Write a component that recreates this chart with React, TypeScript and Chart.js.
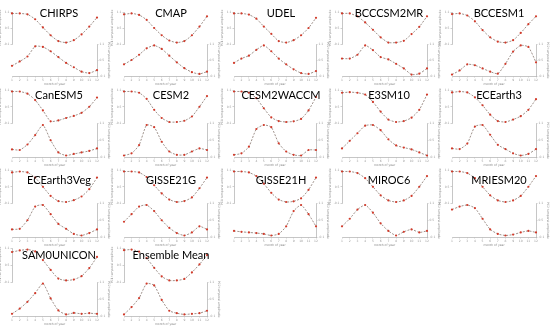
import React, { useEffect, useRef } from 'react';
import { Chart, registerables } from 'chart.js';

Chart.register(...registerables);

// ---------- data (normalised amplitudes) ----------
const MONTHS = ['1', '2', '3', '4', '5', '6', '7', '8', '9', '10', '11', '12'];

const CHIRPS_T = [1.0, 1.0, 0.97, 0.8, 0.52, 0.25, 0.05, 0.0, 0.08, 0.28, 0.55, 0.86];
const CHIRPS_B = [0.3, 0.45, 0.62, 0.97, 0.95, 0.8, 0.6, 0.4, 0.25, 0.1, 0.05, 0.15];
const CMAP_T = [0.97, 1.0, 0.95, 0.78, 0.5, 0.25, 0.07, 0.0, 0.05, 0.25, 0.55, 0.9];
const CMAP_B = [0.35, 0.5, 0.68, 0.9, 1.0, 0.88, 0.65, 0.42, 0.22, 0.08, 0.02, 0.1];
const UDEL_T = [1.0, 1.0, 0.96, 0.82, 0.55, 0.3, 0.05, 0.0, 0.08, 0.25, 0.5, 0.85];
const UDEL_B = [0.4, 0.55, 0.65, 0.85, 1.0, 0.8, 0.55, 0.35, 0.18, 0.05, 0.02, 0.12];
const BCCCSM2MR_T = [1.0, 1.0, 0.9, 0.69, 0.44, 0.18, 0.0, 0.0, 0.06, 0.29, 0.54, 0.9];
const BCCCSM2MR_B = [0.55, 0.55, 0.68, 1.0, 0.84, 0.6, 0.52, 0.37, 0.21, 0.0, 0.03, 0.21];
const BCCESM1_T = [0.98, 1.0, 0.93, 0.73, 0.43, 0.18, 0.03, 0.0, 0.08, 0.33, 0.63, 0.9];
const BCCESM1_B = [0.0, 0.14, 0.35, 0.32, 0.21, 0.1, 0.03, 0.37, 0.79, 1.0, 0.95, 0.42];
const CANESM5_T = [1.0, 1.0, 0.93, 0.72, 0.38, 0.02, 0.05, 0.13, 0.2, 0.3, 0.5, 0.8];
const CANESM5_B = [0.2, 0.18, 0.36, 0.67, 1.0, 0.5, 0.1, 0.0, 0.05, 0.1, 0.15, 0.23];
const CESM2_T = [1.0, 1.0, 0.96, 0.76, 0.4, 0.13, 0.0, 0.0, 0.04, 0.18, 0.5, 0.85];
const CESM2_B = [0.0, 0.07, 0.34, 1.0, 0.93, 0.45, 0.13, 0.02, 0.02, 0.13, 0.23, 0.18];
const CESM2WACCM_T = [1.0, 1.0, 0.96, 0.78, 0.45, 0.15, 0.03, 0.0, 0.02, 0.1, 0.38, 0.82];
const CESM2WACCM_B = [0.02, 0.07, 0.29, 0.87, 1.0, 0.93, 0.4, 0.13, 0.02, 0.0, 0.18, 0.18];
const E3SM10_T = [0.96, 0.98, 0.96, 0.9, 0.66, 0.34, 0.08, 0.0, 0.03, 0.14, 0.4, 0.9];
const E3SM10_B = [0.23, 0.48, 0.73, 0.98, 1.0, 0.83, 0.53, 0.33, 0.26, 0.2, 0.1, 0.0];
const ECEARTH3_T = [0.97, 1.0, 0.97, 0.81, 0.55, 0.24, 0.03, 0.0, 0.08, 0.19, 0.4, 0.75];
const ECEARTH3_B = [0.23, 0.21, 0.39, 0.95, 1.0, 0.68, 0.35, 0.21, 0.07, 0.0, 0.05, 0.21];
const ECEARTH3VEG_T = [0.97, 1.0, 0.97, 0.8, 0.5, 0.2, 0.03, 0.0, 0.06, 0.18, 0.42, 0.8];
const ECEARTH3VEG_B = [0.2, 0.22, 0.5, 0.95, 1.0, 0.7, 0.38, 0.22, 0.05, 0.0, 0.08, 0.2];
const GISSE21G_T = [1.0, 1.0, 0.97, 0.82, 0.55, 0.28, 0.08, 0.0, 0.03, 0.15, 0.45, 0.8];
const GISSE21G_B = [0.45, 0.7, 0.95, 1.0, 0.8, 0.5, 0.25, 0.08, 0.0, 0.1, 0.3, 0.2];
const GISSE21H_T = [1.0, 1.0, 0.97, 0.85, 0.6, 0.3, 0.08, 0.0, 0.02, 0.12, 0.4, 0.8];
const GISSE21H_B = [0.15, 0.12, 0.1, 0.08, 0.05, 0.0, 0.05, 0.3, 0.8, 1.0, 0.7, 0.3];
const MIROC6_T = [1.0, 1.0, 0.95, 0.78, 0.5, 0.22, 0.05, 0.0, 0.05, 0.2, 0.5, 0.85];
const MIROC6_B = [0.3, 0.55, 0.85, 1.0, 0.75, 0.4, 0.15, 0.0, 0.12, 0.2, 0.1, 0.15];
const MRIESM20_T = [1.0, 1.0, 0.95, 0.78, 0.5, 0.22, 0.05, 0.0, 0.05, 0.2, 0.5, 0.85];
const MRIESM20_B = [0.85, 0.95, 1.0, 0.9, 0.55, 0.2, 0.05, 0.0, 0.03, 0.1, 0.15, 0.1];
const SAM0UNICON_T = [0.92, 0.97, 1.0, 0.94, 0.66, 0.34, 0.06, 0.0, 0.03, 0.14, 0.4, 0.76];
const SAM0UNICON_B = [0.02, 0.19, 0.41, 0.69, 1.0, 0.52, 0.13, 0.0, 0.05, 0.02, 0.04, 0.02];
const ENSEMBLE_T = [0.98, 1.0, 0.93, 0.72, 0.41, 0.13, 0.0, 0.0, 0.05, 0.26, 0.52, 0.82];
const ENSEMBLE_B = [0.0, 0.24, 0.53, 1.0, 0.94, 0.47, 0.12, 0.04, 0.0, 0.02, 0.04, 0.12];

const PANEL_NAMES = [
  'CHIRPS', 'CMAP', 'UDEL', 'BCCCSM2MR', 'BCCESM1',
  'CanESM5', 'CESM2', 'CESM2WACCM', 'E3SM10', 'ECEarth3',
  'ECEarth3Veg', 'GISSE21G', 'GISSE21H', 'MIROC6', 'MRIESM20',
  'SAM0UNICON', 'Ensemble Mean',
];
const PANEL_TOP = [
  CHIRPS_T, CMAP_T, UDEL_T, BCCCSM2MR_T, BCCESM1_T,
  CANESM5_T, CESM2_T, CESM2WACCM_T, E3SM10_T, ECEARTH3_T,
  ECEARTH3VEG_T, GISSE21G_T, GISSE21H_T, MIROC6_T, MRIESM20_T,
  SAM0UNICON_T, ENSEMBLE_T,
];
const PANEL_BOTTOM = [
  CHIRPS_B, CMAP_B, UDEL_B, BCCCSM2MR_B, BCCESM1_B,
  CANESM5_B, CESM2_B, CESM2WACCM_B, E3SM10_B, ECEARTH3_B,
  ECEARTH3VEG_B, GISSE21G_B, GISSE21H_B, MIROC6_B, MRIESM20_B,
  SAM0UNICON_B, ENSEMBLE_B,
];

const X_TITLE = 'month of year';
const Y_LEFT_TITLE = 'PC1 temporal amplitude';
const Y_RIGHT_TITLE = 'PC2 temporal amplitude';

// ---------- layout ----------
const COL_LEFT = [12, 124, 234, 342, 452];
const COL_RIGHT = [97, 207, 316, 427, 536];
const ROW_TOP = [12, 90, 170, 248];
const ROW_AXIS = [76, 157, 237, 316];
const ROW_TITLE = [13, 95, 180, 255];
const SIDE = 14;
const PAD_TOP = 10;
const X_H = 10;

const LINE = '#958780';
const DOT = '#d23a2a';
const AXIS = '#a0a0a0';

function Panel({ idx }: { idx: number }) {
  const ref = useRef<HTMLCanvasElement | null>(null);
  const r = Math.floor(idx / 5);
  const c = idx % 5;
  const w = COL_RIGHT[c] - COL_LEFT[c] + SIDE * 2;
  const h = ROW_AXIS[r] - ROW_TOP[r] + PAD_TOP + X_H;

  useEffect(() => {
    if (!ref.current) return;
    const tinyFont = { size: 3, family: 'DejaVu Sans' };
    const yCommon = (pos: string) => ({
      type: 'linear',
      position: pos,
      min: -0.05,
      max: 1.05,
      afterFit: (s: any) => { s.width = SIDE; },
      grid: { display: true, drawOnChartArea: false, drawTicks: true, tickLength: 1.5, color: AXIS, lineWidth: 0.5 },
      border: { display: true, color: AXIS, width: 0.6 },
      ticks: { font: tinyFont, color: '#9a9a9a', padding: 1, stepSize: 0.5, callback: (v: any) => Number(v).toFixed(1) },
    });
    const pad = (pos: string, stack: string) => ({
      type: 'linear',
      position: pos,
      stack,
      stackWeight: 1,
      afterFit: (s: any) => { s.width = SIDE; },
      grid: { display: false },
      border: { display: false },
      ticks: { display: false },
    });
    const series = (data: number[], axis: string) => ({
      data, yAxisID: axis, borderColor: LINE, borderWidth: 0.9,
      borderDash: [2, 1.4], pointRadius: 1.1, pointBackgroundColor: DOT,
      pointBorderWidth: 0, tension: 0.2, clip: false,
    });
    const chart = new Chart(ref.current, {
      type: 'line',
      data: {
        labels: MONTHS,
        datasets: [series(PANEL_TOP[idx], 'yT'), series(PANEL_BOTTOM[idx], 'yB')],
      },
      options: {
        animation: false,
        responsive: false,
        maintainAspectRatio: false,
        events: [],
        layout: { padding: { top: PAD_TOP, left: 0, right: 0, bottom: 0 } },
        plugins: { legend: { display: false }, tooltip: { enabled: false }, title: { display: false } },
        scales: {
          x: {
            type: 'category',
            offset: false,
            afterFit: (s: any) => { s.height = X_H; },
            grid: { display: true, drawOnChartArea: false, drawTicks: true, tickLength: 1.5, color: AXIS, lineWidth: 0.5 },
            border: { display: true, color: AXIS, width: 0.6 },
            ticks: { font: tinyFont, color: '#9a9a9a', padding: 0.5, maxRotation: 0, autoSkip: false },
            title: { display: true, text: X_TITLE, font: tinyFont, color: '#888', padding: 0 },
          },
          yTpad: pad('left', 'L'),
          yT: {
            ...yCommon('left'),
            stack: 'L',
            stackWeight: 1,
            title: { display: true, text: Y_LEFT_TITLE, font: tinyFont, color: '#888', padding: 0 },
          },
          yBpad: pad('right', 'R'),
          yB: {
            ...yCommon('right'),
            stack: 'R',
            stackWeight: 1,
            title: { display: true, text: Y_RIGHT_TITLE, font: tinyFont, color: '#888', padding: 0 },
          },
        },
      } as any,
    } as any);
    return () => chart.destroy();
  }, [idx]);

  return (
    <canvas
      ref={ref}
      width={w}
      height={h}
      style={{ position: 'absolute', left: COL_LEFT[c] - SIDE, top: ROW_TOP[r] - PAD_TOP, width: w, height: h }}
    />
  );
}

export default function App() {
  return (
    <div style={{ position: 'absolute', left: 0, top: 0, width: 550, height: 327, background: '#fff', overflow: 'hidden' }}>
      {PANEL_NAMES.map((_, i) => <Panel key={i} idx={i} />)}
      {PANEL_NAMES.map((name, i) => {
        const r = Math.floor(i / 5);
        const c = i % 5;
        const cx = COL_LEFT[c] + 47;
        return (
          <div
            key={'t' + i}
            style={{
              position: 'absolute', left: cx - 60, width: 120, top: ROW_TITLE[r] - 7, height: 14,
              lineHeight: '14px', textAlign: 'center', fontFamily: 'Lato, "Open Sans", sans-serif',
              fontSize: 11, color: '#000', pointerEvents: 'none', whiteSpace: 'nowrap',
            }}
          >
            {name}
          </div>
        );
      })}
    </div>
  );
}
